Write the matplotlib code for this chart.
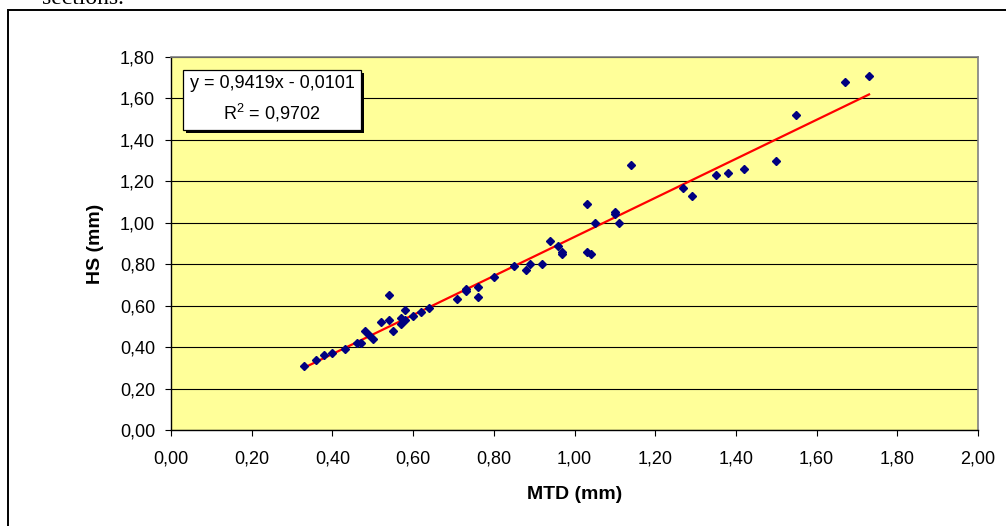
import matplotlib.pyplot as plt
from matplotlib.patches import Rectangle
from matplotlib.ticker import FuncFormatter, MultipleLocator

plt.rcParams['font.family'] = ['Liberation Sans', 'DejaVu Sans']
plt.rcParams['mathtext.fontset'] = 'custom'
plt.rcParams['mathtext.rm'] = 'Liberation Sans'

# measured texture depths
mtd = [0.33, 0.36, 0.38, 0.40, 0.43, 0.46, 0.47, 0.48, 0.49, 0.50,
       0.52, 0.54, 0.54, 0.55, 0.57, 0.57, 0.58, 0.58, 0.60, 0.62,
       0.64, 0.71, 0.73, 0.73, 0.76, 0.76, 0.80, 0.85, 0.88, 0.89,
       0.92, 0.94, 0.96, 0.97, 0.97, 1.03, 1.03, 1.04, 1.05, 1.10,
       1.10, 1.11, 1.14, 1.27, 1.29, 1.35, 1.38, 1.42, 1.50, 1.55,
       1.67, 1.73]
hs = [0.31, 0.34, 0.36, 0.37, 0.39, 0.42, 0.42, 0.48, 0.46, 0.44,
      0.52, 0.65, 0.53, 0.48, 0.54, 0.51, 0.58, 0.53, 0.55, 0.57,
      0.59, 0.63, 0.68, 0.67, 0.69, 0.64, 0.74, 0.79, 0.77, 0.80,
      0.80, 0.91, 0.89, 0.86, 0.85, 1.09, 0.86, 0.85, 1.00, 1.05,
      1.04, 1.00, 1.28, 1.17, 1.13, 1.23, 1.24, 1.26, 1.30, 1.52,
      1.68, 1.71]

slope = 0.9419
intercept = -0.0101
eq_text = 'y = 0,9419x - 0,0101'
r2_text = r'$\mathregular{R^{2}}$ = 0,9702'


def comma(v, pos):
    return '{:.2f}'.format(v).replace('.', ',')


fig = plt.figure(figsize=(10.06, 5.26), dpi=100)
ax = fig.add_axes([171 / 1006, 96 / 526, 807 / 1006, 373 / 526])
ax.set_facecolor('#FFFF99')

ax.set_xlim(0, 2.0)
ax.set_ylim(0, 1.8)
ax.xaxis.set_major_locator(MultipleLocator(0.2))
ax.yaxis.set_major_locator(MultipleLocator(0.2))
ax.xaxis.set_major_formatter(FuncFormatter(comma))
ax.yaxis.set_major_formatter(FuncFormatter(comma))
ax.tick_params(axis='both', direction='out', length=4, width=0.8,
               labelsize=13, color='black')
ax.tick_params(axis='x', pad=11)
ax.tick_params(axis='y', pad=7.5)

ax.set_axisbelow(True)
ax.grid(axis='y', color='black', linewidth=0.8)
ax.grid(axis='x', visible=False)

for side in ['top', 'right']:
    ax.spines[side].set_color('#808080')
    ax.spines[side].set_linewidth(1.2)
for side in ['left', 'bottom']:
    ax.spines[side].set_color('black')
    ax.spines[side].set_linewidth(1.0)

x0, x1 = min(mtd), max(mtd)
ax.plot([x0, x1], [slope * x0 + intercept, slope * x1 + intercept],
        color='#FF0000', linewidth=1.6, zorder=3)
ax.plot(mtd, hs, linestyle='none', marker='D', markersize=4.5,
        color='#000080', zorder=4)

ax.set_xlabel('MTD (mm)', fontsize=14, fontweight='bold', va='center')
ax.set_ylabel('HS (mm)', fontsize=14, fontweight='bold', va='center')
ax.xaxis.set_label_coords(0.5, -0.174)
ax.yaxis.set_label_coords(-0.093, 0.5)

# equation box with shadow
bx, by, bw, bh = 0.0149, 0.804, 0.2205, 0.161
ax.add_patch(Rectangle((bx + 0.0037, by - 0.008), bw, bh, transform=ax.transAxes,
                       facecolor='black', edgecolor='none', zorder=5))
ax.add_patch(Rectangle((bx, by), bw, bh, transform=ax.transAxes,
                       facecolor='white', edgecolor='black', linewidth=0.9, zorder=6))
ax.text(bx + bw / 2, 0.930, eq_text, transform=ax.transAxes, ha='center',
        va='center', fontsize=13, zorder=7)
ax.text(bx + bw / 2, 0.850, r2_text, transform=ax.transAxes, ha='center',
        va='center', fontsize=13, zorder=7)

# outer chart frame and document text above it
fig.patches.append(Rectangle((8 / 1006, -0.1), 1.1, 0.1 + 516 / 526,
                             transform=fig.transFigure, fill=False,
                             edgecolor='black', linewidth=1.4))
fig.text(42 / 1006, 1 - 4 / 526, 'sections.', family='Liberation Serif',
         fontsize=17, va='baseline', ha='left')

fig.savefig('out.png', dpi=100)
